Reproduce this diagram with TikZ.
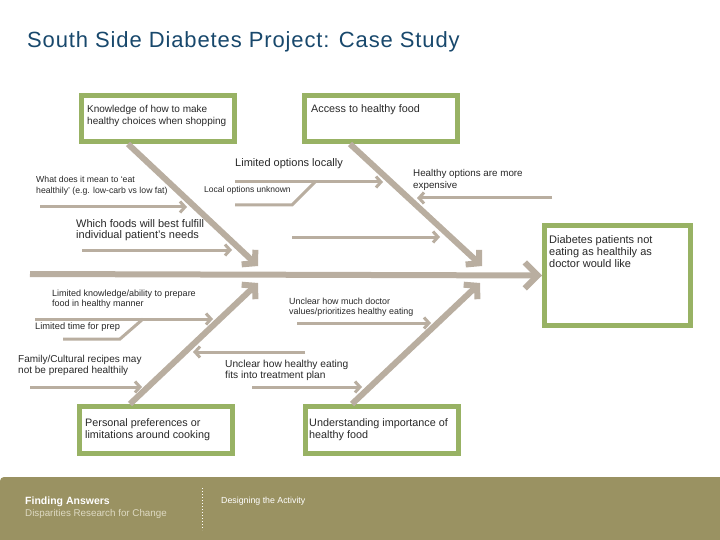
\documentclass[tikz,border=0pt]{standalone}
\usepackage{fontspec}
\setmainfont{Liberation Sans}
\newfontfamily\titlefont[LetterSpace=4]{Liberation Sans}
\usetikzlibrary{arrows.meta,calc}
\definecolor{boxgreen}{RGB}{152,178,100}
\definecolor{taupe}{RGB}{185,174,160}
\definecolor{olive}{RGB}{154,146,98}
\definecolor{titleblue}{RGB}{24,72,108}
\definecolor{txt}{RGB}{40,40,40}
\definecolor{footlight}{RGB}{222,218,195}
\tikzset{
  catbox/.style={draw=boxgreen, line width=5pt, fill=white, inner sep=0pt, minimum width=153pt, minimum height=46pt},
  lbl/.style={anchor=base west, inner sep=0pt, align=left, text=txt},
  bone/.style={draw=taupe, line width=6pt, -{Straight Barb[length=9pt,width=20pt]}},
  spine/.style={draw=taupe, line width=6pt, -{Straight Barb[length=13pt,width=26pt]}},
  sub/.style={draw=taupe, line width=3pt, -{Straight Barb[length=5pt,width=11pt]}},
  subplain/.style={draw=taupe, line width=3pt},
}
% font size, leading
\newcommand{\fs}[2]{\fontsize{#1}{#2}\selectfont}
\begin{document}
\begin{tikzpicture}[x=1pt,y=-1pt]
\path[fill=white] (0,0) rectangle (720,540);
\useasboundingbox (0,0) rectangle (720,540);
% title
\node[anchor=base west, inner sep=0pt, text=titleblue, font=\titlefont\fontsize{22}{26}\selectfont] (title) at (27,48) {South Side Diabetes Project: Case Study};
% footer
\fill[olive, rounded corners=4pt] (0,477) rectangle (730,550);
\node[anchor=base west, inner sep=0pt, text=white, font=\bfseries\fontsize{10.5}{12}\selectfont] (fa) at (25,504) {Finding Answers};
\node[anchor=base west, inner sep=0pt, text=footlight, font=\fontsize{9.8}{12}\selectfont] (dr) at (25,516) {Disparities Research for Change};
\coordinate (dtop) at (202,488);
\coordinate (dbot) at (202,530);
\draw[white, line width=1pt, dotted] (dtop) -- (dbot);
\node[anchor=base west, inner sep=0pt, text=white, font=\fontsize{8.8}{10}\selectfont] (da) at (221,503) {Designing the Activity};

% boxes
\node[catbox] (k) at (158,118.5) {};
\node[catbox] (a) at (381,118.5) {};
\node[catbox, minimum height=47pt] (p) at (156,430) {};
\node[catbox, minimum height=47pt] (u) at (381.5,430) {};
\node[catbox, minimum width=146pt, minimum height=100pt] (d) at (617.5,275.5) {};

\node[lbl, font=\fs{10}{12}] (kt) at (87,125) {Knowledge of how to make\\healthy choices when shopping};
\node[lbl, font=\fs{10.8}{12}] (at) at (311,113) {Access to healthy food};
\node[lbl, font=\fs{10.8}{12}] (pt) at (85,438) {Personal preferences or\\limitations around cooking};
\node[lbl, font=\fs{10.8}{12}] (ut) at (309,438) {Understanding importance of\\healthy food};
\node[lbl, font=\fs{11}{12}] (dt) at (549,267) {Diabetes patients not\\eating as healthily as\\doctor would like};

% spine and bones
\coordinate (s0) at (30,274);
\draw[spine] (s0) -- (d.west);
\coordinate (j1) at (258,266);
\coordinate (j2) at (482,266);
\coordinate (j3) at (258,283);
\coordinate (j4) at (480,283);
\draw[bone] ([xshift=-30pt]k.south) -- (j1);
\draw[bone] ([xshift=-31pt]a.south) -- (j2);
\draw[bone] ([xshift=-26pt]p.north) -- (j3);
\draw[bone] ([xshift=-29.5pt]u.north) -- (j4);

% upper sub-causes
\coordinate (a1s) at (40,207); \coordinate (a1e) at (187,207);
\draw[sub] (a1s) -- (a1e);
\node[lbl, font=\fs{8.7}{11}] (a1t) at (36,194) {What does it mean to `eat\\healthily' (e.g. low-carb vs low fat)};

\coordinate (a2s) at (82,250); \coordinate (a2e) at (232,250);
\draw[sub] (a2s) -- (a2e);
\node[lbl, font=\fs{11}{12}] (a2t) at (76,239) {Which foods will best fulfill\\individual patient's needs};

\coordinate (a3s) at (235,182); \coordinate (a3e) at (383,182);
\draw[sub] (a3s) -- (a3e);
\node[lbl, font=\fs{11}{12}] (a3t) at (235,167) {Limited options locally};
\coordinate (a3bs) at (235,205); \coordinate (a3bk) at (292,205); \coordinate (a3bj) at (315,182);
\draw[subplain] (a3bs) -- (a3bk) -- (a3bj);
\node[lbl, font=\fs{8.5}{10}] (a3bt) at (204,193) {Local options unknown};

\coordinate (a4s) at (552,198); \coordinate (a4e) at (417,198);
\draw[sub] (a4s) -- (a4e);
\node[lbl, font=\fs{9.8}{11.5}] (a4t) at (413,188.5) {Healthy options are more\\expensive};

\coordinate (a5s) at (292,237); \coordinate (a5e) at (440,237);
\draw[sub] (a5s) -- (a5e);

% lower sub-causes
\coordinate (b1s) at (35,319); \coordinate (b1e) at (213,319);
\draw[sub] (b1s) -- (b1e);
\node[lbl, font=\fs{9}{10}] (b1t) at (52,306) {Limited knowledge/ability to prepare\\food in healthy manner};
\coordinate (b1bs) at (63,339); \coordinate (b1bk) at (120,339); \coordinate (b1bj) at (143,319);
\draw[subplain] (b1bs) -- (b1bk) -- (b1bj);
\node[lbl, font=\fs{9.3}{11}] (b1bt) at (35,329) {Limited time for prep};

\coordinate (b2s) at (30,387); \coordinate (b2e) at (142,387);
\draw[sub] (b2s) -- (b2e);
\node[lbl, font=\fs{10}{11}] (b2t) at (18,373) {Family/Cultural recipes may\\not be prepared healthily};

\coordinate (b3s) at (305,352); \coordinate (b3e) at (193,352);
\draw[sub] (b3s) -- (b3e);
\node[lbl, font=\fs{10.2}{11}] (b3t) at (225,378) {Unclear how healthy eating\\fits into treatment plan};

\coordinate (b4s) at (252,387); \coordinate (b4e) at (362,387);
\draw[sub] (b4s) -- (b4e);

\coordinate (b5s) at (297,323); \coordinate (b5e) at (431,323);
\draw[sub] (b5s) -- (b5e);
\node[lbl, font=\fs{8.9}{10}] (b5t) at (289,314) {Unclear how much doctor\\values/prioritizes healthy eating};
\end{tikzpicture}
\end{document}
